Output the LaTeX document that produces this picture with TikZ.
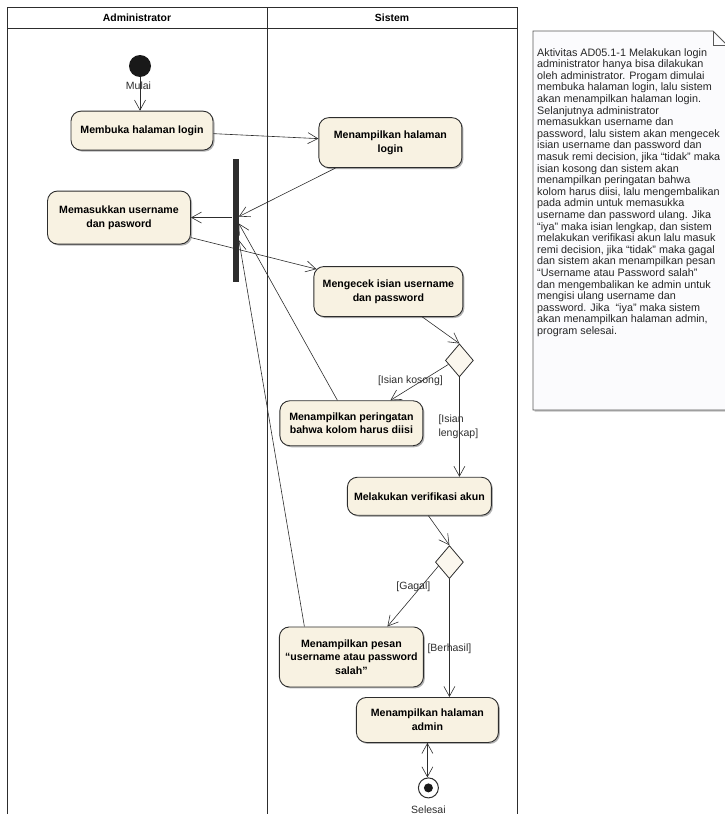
\documentclass[tikz,border=0pt]{standalone}
\usepackage{fontspec}
\setmainfont{Liberation Sans}
\usepackage{tikz}
\usetikzlibrary{backgrounds}
\usetikzlibrary{positioning}
\usetikzlibrary{shapes.geometric}
\usetikzlibrary{arrows.meta}
\usetikzlibrary{shadows}
\usepackage{xcolor}
\definecolor{mycream}{RGB}{248,242,226}
\definecolor{mydark}{RGB}{45,45,45}
\definecolor{mynote}{RGB}{251,251,253}

\begin{document}
\begin{tikzpicture}[x=1pt, y=-1pt,
    act/.style={draw=mydark, line width=0.9pt, fill=mycream, rounded corners=10pt,
            align=center, inner sep=1pt, font=\bfseries\fontsize{10.6}{13.5}\selectfont,
            drop shadow={shadow xshift=1.5pt, shadow yshift=-1.5pt, opacity=0.3, fill=black}},
    dec/.style={diamond, draw=mydark, line width=0.8pt, fill=mycream!60, inner sep=0pt,
            minimum width=28pt, minimum height=33pt},
    grd/.style={font=\fontsize{10.5}{14.5}\selectfont, text=mydark, inner sep=0pt},
    lane/.style={draw=mydark, line width=1pt}]

    \useasboundingbox (0,0) rectangle (724,819);

    %L: swimlanes
    \draw[lane] (7,814) -- (7,7) -- (517,7) -- (517,814);
    \draw[lane] (7,28) -- (517,28);
    \draw[lane] (267,7) -- (267,814);
    \node[font=\bfseries\fontsize{10.4}{12}\selectfont] (hadm) at (137,17.5) {Administrator};
    \node[font=\bfseries\fontsize{10.4}{12}\selectfont] (hsis) at (392,17.5) {Sistem};

    % ------------------

    %A: administrator side
    \node[circle, fill=black!90, minimum size=22pt, inner sep=0pt] (ini) at (140,66) {};
    \node[grd, below=4pt of ini, xshift=-1.5pt] (lmul) {Mulai};

    \node[act, minimum width=142pt, minimum height=39pt, below=33.5pt of ini, xshift=2pt] (mbk) {Membuka halaman login};
    \node[act, minimum width=143pt, minimum height=50pt, right=105pt of mbk, yshift=-12pt] (tlg) {Menampilkan halaman\\login};
    \node[act, minimum width=143pt, minimum height=53pt, below=40pt of mbk, xshift=-23pt] (msk) {Memasukkan username\\dan pasword};
    \node[fill=mydark, minimum width=6pt, minimum height=123pt, inner sep=0pt, right=41.5pt of msk, yshift=-2.5pt] (bar) {};

    % ------------------

    %S: system side
    \node[act, minimum width=149pt, minimum height=50pt, below=98pt of tlg, xshift=-2pt] (cek) {Mengecek isian username\\dan password};
    \node[dec, below=26.5pt of cek, xshift=71pt] (dc1) {};
    \node[act, minimum width=143pt, minimum height=45pt, below=23pt of dc1, xshift=-108pt] (prg) {Menampilkan peringatan\\bahwa kolom harus diisi};
    \node[act, minimum width=144pt, minimum height=38pt, below=99.5pt of dc1, xshift=-40pt] (vrf) {Melakukan verifikasi akun};
    \node[dec, below=29.5pt of vrf, xshift=30pt] (dc2) {};
    \node[act, minimum width=144pt, minimum height=60pt, below=47.5pt of dc2, xshift=-98pt] (psn) {Menampilkan pesan\\“username atau password\\salah”};
    \node[act, minimum width=142pt, minimum height=45pt, below=118pt of dc2, xshift=-22pt] (adm) {Menampilkan halaman\\admin};

    \node[circle, draw=mydark, line width=1pt, fill=white, minimum size=20pt, inner sep=0pt, below=34.5pt of adm, xshift=1pt] (fin) {};
    \node[circle, fill=black!90, minimum size=9pt, inner sep=0pt] (fdot) at (fin) {};
    \node[grd, below=7pt of fin] (lsel) {Selesai};

    % guards
    \node[grd] (gkos) at ([xshift=-49pt,yshift=-20pt]dc1.center) {[Isian kosong]};
    \node[grd, align=left] (glkp) at ([xshift=-1pt,yshift=-66.5pt]dc1.center) {[Isian\\lengkap]};
    \node[grd] (ggal) at ([xshift=-36pt,yshift=-25pt]dc2.center) {[Gagal]};
    \node[grd] (gber) at ([yshift=-87pt]dc2.center) {[Berhasil]};

    % ------------------

    %N: note
    \path[draw=mydark!80, line width=0.9pt, fill=mynote,
        drop shadow={shadow xshift=1.5pt, shadow yshift=-1.5pt, opacity=0.25, fill=black}]
    (533,31) -- (713,31) -- (727,45) -- (727,410) -- (533,410) -- cycle;
    \draw[draw=mydark!80, line width=0.8pt] (713,31) -- (713,45) -- (727,45);
    \node[anchor=north west, align=left, inner sep=0pt, text=black!85,
        font=\fontsize{10.8}{11.6}\selectfont] (ntxt) at (537,48)
    {Aktivitas AD05.1-1 Melakukan login\\
        administrator hanya bisa dilakukan\\
        oleh administrator. Progam dimulai\\
        membuka halaman login, lalu sistem\\
        akan menampilkan halaman login.\\
        Selanjutnya administrator\\
        memasukkan username dan\\
        password, lalu sistem akan mengecek\\
        isian username dan password dan\\
        masuk remi decision, jika “tidak” maka\\
        isian kosong dan sistem akan\\
        menampilkan peringatan bahwa\\
        kolom harus diisi, lalu mengembalikan\\
        pada admin untuk memasukka\\
        username dan password ulang. Jika\\
        “iya” maka isian lengkap, dan sistem\\
        melakukan verifikasi akun lalu masuk\\
        remi decision, jika “tidak” maka gagal\\
        dan sistem akan menampilkan pesan\\
        “Username atau Password salah”\\
        dan mengembalikan ke admin untuk\\
        mengisi ulang username dan\\
        password. Jika\ \ “iya” maka sistem\\
        akan menampilkan halaman admin,\\
        program selesai.};

    % flows
    \path[draw=mydark, line width=0.6pt, -{Straight Barb[length=10pt,width=11pt]}]
    (ini.south) edge (ini.south |- mbk.north)
    ([yshift=-3pt]mbk.east) edge ([yshift=4pt]tlg.west)
    ([xshift=-55pt]tlg.south) edge ([yshift=3.5pt]bar.east)
    (msk.east -| bar.west) edge (msk.east)
    ([yshift=-20pt]msk.east) edge ([xshift=3pt,yshift=-3pt]cek.north west)
    ([xshift=34pt]cek.south) edge (dc1.north)
    (dc1.200) edge ([xshift=39pt]prg.north)
    (dc1.south) edge (dc1.south |- vrf.north)
    ([xshift=-14pt]prg.north) edge ([yshift=-3.5pt]bar.east)
    ([xshift=9pt]vrf.south) edge (dc2.north)
    (dc2.200) edge ([xshift=36pt]psn.north)
    (dc2.south) edge (dc2.south |- adm.north)
    ([xshift=-47pt]psn.north) edge ([yshift=-20pt]bar.east)
    (adm.south) edge (adm.south |- fin.north)
    ;
\end{tikzpicture}
\end{document}
